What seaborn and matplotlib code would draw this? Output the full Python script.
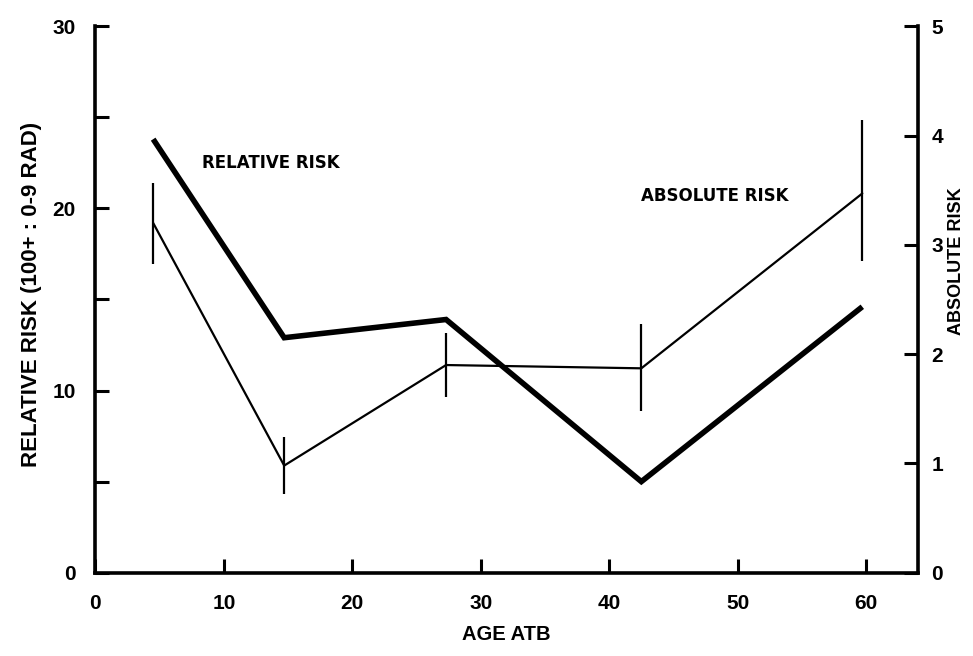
import matplotlib
matplotlib.use("Agg")
import matplotlib.pyplot as plt
import seaborn as sns
import pandas as pd

# Data
age = [4.5, 14.7, 27.3, 42.5, 59.7]
relative_risk = [23.8, 12.9, 13.9, 5.0, 14.6]
absolute_risk = [3.2, 0.98, 1.9, 1.87, 3.47]
abs_err_low = [2.82, 0.72, 1.61, 1.48, 2.85]
abs_err_high = [3.57, 1.24, 2.19, 2.28, 4.14]

x_ticks = [0, 10, 20, 30, 40, 50, 60]
left_ticks = [0, 5, 10, 15, 20, 25, 30]
left_labels = ["0", "", "10", "", "20", "", "30"]
right_ticks = [0, 1, 2, 3, 4, 5]

sns.set_theme(style="ticks")
plt.rcParams["font.family"] = ["Liberation Sans", "DejaVu Sans"]
plt.rcParams["font.weight"] = "bold"
plt.rcParams["text.color"] = "black"
plt.rcParams["axes.labelcolor"] = "black"
plt.rcParams["xtick.color"] = "black"
plt.rcParams["ytick.color"] = "black"

df = pd.DataFrame({"age": age, "rel": relative_risk, "abs": absolute_risk,
                   "lo": abs_err_low, "hi": abs_err_high})

fig = plt.figure(figsize=(9.73, 6.56), dpi=100)
ax = fig.add_axes([0.098, 0.127, 0.845, 0.833])
ax2 = ax.twinx()

sns.lineplot(data=df, x="age", y="rel", ax=ax, color="black", linewidth=4,
             solid_capstyle="butt", solid_joinstyle="miter")
sns.lineplot(data=df, x="age", y="abs", ax=ax2, color="black", linewidth=1.6)
ax2.vlines(df["age"], df["lo"], df["hi"], color="black", linewidth=1.6)

ax.set_xlim(0, 64)
ax.set_ylim(0, 30)
ax2.set_ylim(0, 5)

lw = 2.6
for a in (ax, ax2):
    a.spines["top"].set_visible(False)
    a.set_facecolor("none")
ax.spines["right"].set_visible(False)
ax2.spines["left"].set_visible(False)
ax2.spines["bottom"].set_visible(False)
ax.spines["left"].set_linewidth(lw)
ax.spines["bottom"].set_linewidth(lw)
ax2.spines["right"].set_linewidth(lw)
for s in ("left", "bottom"):
    ax.spines[s].set_color("black")
ax2.spines["right"].set_color("black")

ax.set_xticks(x_ticks)
ax.set_xticklabels([str(v) for v in x_ticks])
ax.set_yticks(left_ticks)
ax.set_yticklabels(left_labels)
ax2.set_yticks(right_ticks)
ax2.set_yticklabels([str(v) for v in right_ticks])

ax.tick_params(axis="both", direction="in", length=10, width=2.2, color="black",
               labelsize=15, pad=14, labelcolor="black")
ax.tick_params(axis="x", pad=15)
ax2.tick_params(axis="y", direction="in", length=10, width=2.2, color="black",
                labelsize=15, pad=10, labelcolor="black")
for lab in ax.get_xticklabels() + ax.get_yticklabels() + ax2.get_yticklabels():
    lab.set_fontweight("bold")

ax.set_xlabel("AGE ATB", fontsize=14.5, fontweight="bold", labelpad=9, color="black")
ax.set_ylabel("RELATIVE RISK (100+ : 0-9 RAD)", fontsize=16, fontweight="bold",
              color="black")
ax.yaxis.set_label_coords(-0.065, 0.51)
ax2.set_ylabel("ABSOLUTE RISK", fontsize=13, fontweight="bold", rotation=90,
               color="black")
ax2.yaxis.set_label_coords(1.037, 0.57)

ax.text(8.3, 22.5, "RELATIVE RISK", fontsize=12, fontweight="bold", ha="left",
        va="center", color="black", family=["DejaVu Sans"])
ax2.text(42.5, 3.45, "ABSOLUTE RISK", fontsize=12, fontweight="bold", ha="left",
         va="center", color="black", family=["DejaVu Sans"])

fig.savefig("out.png", dpi=100, facecolor="white")
